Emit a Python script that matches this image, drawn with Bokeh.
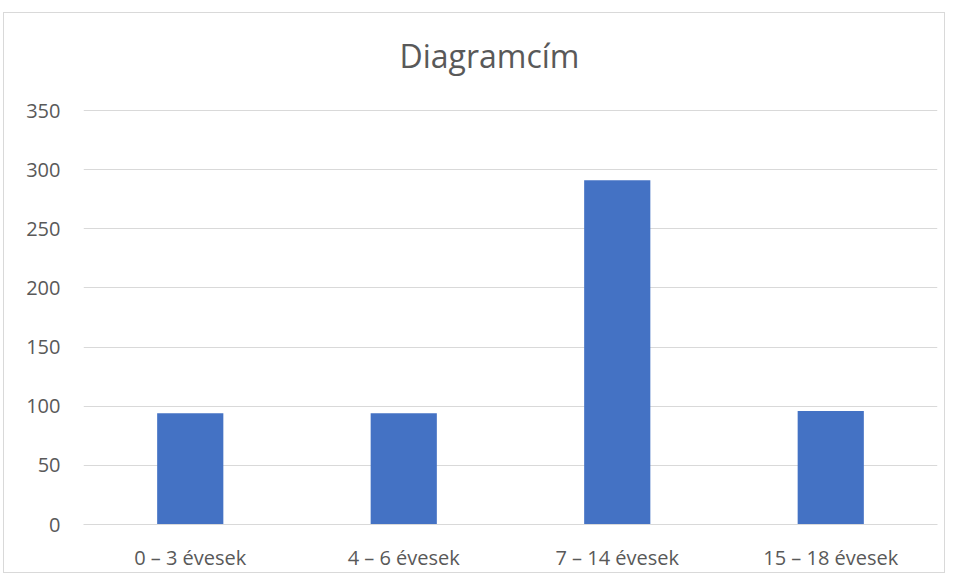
from bokeh.plotting import figure
from bokeh.models import Range1d, FactorRange, ColumnDataSource, FixedTicker, Label
from bokeh.embed import file_html
from bokeh.resources import INLINE

categories = ["0 – 3 évesek", "4 – 6 évesek", "7 – 14 évesek", "15 – 18 évesek"]
values = [94, 94, 291, 96]
y_ticks = [0, 50, 100, 150, 200, 250, 300, 350]
title_text = "Diagramcím"

FONT = "Open Sans"
GREY = "#595959"

H, TOP, BOTTOM = 561, 17, 50
AXIS_PX = 414                       # pixel height of the 0..350 value axis
frame_px = H - TOP - BOTTOM
y_end = y_ticks[-1] * frame_px / AXIS_PX   # extra headroom above 350 holds the title

src = ColumnDataSource(dict(cat=categories, val=values))

p = figure(width=942, height=H, output_backend="svg", toolbar_location=None,
           x_range=FactorRange(*categories, range_padding=0),
           y_range=Range1d(0, y_end),
           min_border_left=79, min_border_right=9, min_border_top=TOP, min_border_bottom=BOTTOM)
p.styles = {"margin-top": "12px", "margin-left": "3px", "border": "1px solid #d9d9d9"}

p.vbar(x="cat", top="val", width=0.31, source=src, fill_color="#4472C4", line_color=None)

title = Label(x=len(categories) / 2, y=y_ticks[-1], x_offset=-21, y_offset=55, text=title_text,
              text_align="center", text_baseline="middle",
              text_font=FONT, text_font_size="32px", text_color=GREY)
p.add_layout(title)

p.outline_line_color = None
p.xgrid.grid_line_color = None
p.ygrid.grid_line_color = "#d9d9d9"
p.ygrid.grid_line_width = 1
p.yaxis.ticker = FixedTicker(ticks=y_ticks)

p.yaxis.axis_line_color = None
p.yaxis.major_tick_line_color = None
p.yaxis.minor_tick_line_color = None
p.yaxis.major_label_standoff = 17
p.yaxis.major_label_text_font = FONT
p.yaxis.major_label_text_font_size = "20px"
p.yaxis.major_label_text_color = GREY

p.xaxis.axis_line_color = "#d9d9d9"
p.xaxis.major_tick_line_color = None
p.xaxis.minor_tick_line_color = None
p.xaxis.major_label_standoff = 13
p.xaxis.major_label_text_font = FONT
p.xaxis.major_label_text_font_size = "20px"
p.xaxis.major_label_text_color = GREY

open("out.html", "w").write(file_html(p, INLINE))
